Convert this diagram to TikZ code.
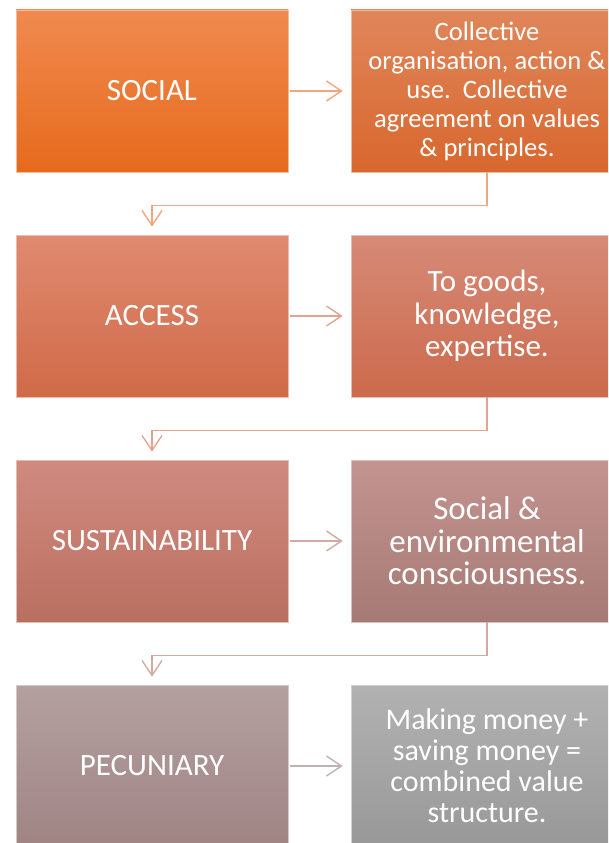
\documentclass[tikz,border=0pt]{standalone}
\usepackage{fontspec}
\setmainfont{Carlito}
\usetikzlibrary{arrows.meta}
\definecolor{aTop}{HTML}{F08A50}\definecolor{aBot}{HTML}{E66A1C}
\definecolor{bTop}{HTML}{E0865A}\definecolor{bBot}{HTML}{D8672E}
\definecolor{cTop}{HTML}{E08A70}\definecolor{cBot}{HTML}{D06A48}
\definecolor{dTop}{HTML}{D68A78}\definecolor{dBot}{HTML}{CC6A4C}
\definecolor{eTop}{HTML}{D08A80}\definecolor{eBot}{HTML}{BA7060}
\definecolor{fTop}{HTML}{C49490}\definecolor{fBot}{HTML}{A67A74}
\definecolor{gTop}{HTML}{B4A0A0}\definecolor{gBot}{HTML}{A08484}
\definecolor{hTop}{HTML}{B2B2B2}\definecolor{hBot}{HTML}{989898}
\definecolor{arA}{HTML}{F2A57E}
\definecolor{arB}{HTML}{E2A492}
\definecolor{arC}{HTML}{D2AAA4}
\definecolor{arD}{HTML}{BEB2B2}
\tikzset{
  box/.style={minimum width=272pt, minimum height=162pt, inner sep=0pt,
    text=white, align=center, draw=white!55!#1, line width=0.6pt},
  lbl/.style={font=\fontsize{31}{36}\selectfont},
  conn/.style={line width=1.4pt, -{Straight Barb[length=15pt,width=20pt,line width=1.4pt]}},
  hconn/.style={conn, shorten <=2pt, shorten >=8pt},
  vconn/.style={conn, shorten >=8pt},
}
\begin{document}
\begin{tikzpicture}[x=1pt,y=-1pt]
\useasboundingbox (0,0) rectangle (608,843);
\clip (0,0) rectangle (608,843);
% row 1
\node[box=aBot, top color=aTop, bottom color=aBot, lbl] (L1) at (152,91) {SOCIAL};
\node[box=bBot, top color=bTop, bottom color=bBot, font=\fontsize{26.6}{29}\selectfont] (R1) at (487,91)
  {Collective\\organisation, action \&\\use.\ \ Collective\\agreement on values\\\& principles.};
% row 2
\node[box=cBot, top color=cTop, bottom color=cBot, lbl] (L2) at (152,316) {ACCESS};
\node[box=dBot, top color=dTop, bottom color=dBot, font=\fontsize{31}{32.5}\selectfont] (R2) at (487,316)
  {To goods,\\knowledge,\\expertise.};
% row 3
\node[box=eBot, top color=eTop, bottom color=eBot, lbl] (L3) at (152,541) {SUSTAINABILITY};
\node[box=fBot, top color=fTop, bottom color=fBot, font=\fontsize{33}{32.5}\selectfont] (R3) at (487,541)
  {Social \&\\environmental\\consciousness.};
% row 4
\node[box=gBot, top color=gTop, bottom color=gBot, lbl] (L4) at (152,766) {PECUNIARY};
\node[box=hBot, top color=hTop, bottom color=hBot, font=\fontsize{30}{31}\selectfont] (R4) at (487,766)
  {Making money +\\saving money =\\combined value\\structure.};
% horizontal connectors
\draw[hconn, arA] (L1) -- (R1);
\draw[hconn, arB] (L2) -- (R2);
\draw[hconn, arC] (L3) -- (R3);
\draw[hconn, arD] (L4) -- (R4);
% bend connectors
\draw[vconn, arA] (R1.south) -- ++(0,33) -| (L2.north);
\draw[vconn, arB] (R2.south) -- ++(0,33) -| (L3.north);
\draw[vconn, arC] (R3.south) -- ++(0,33) -| (L4.north);
\end{tikzpicture}
\end{document}
